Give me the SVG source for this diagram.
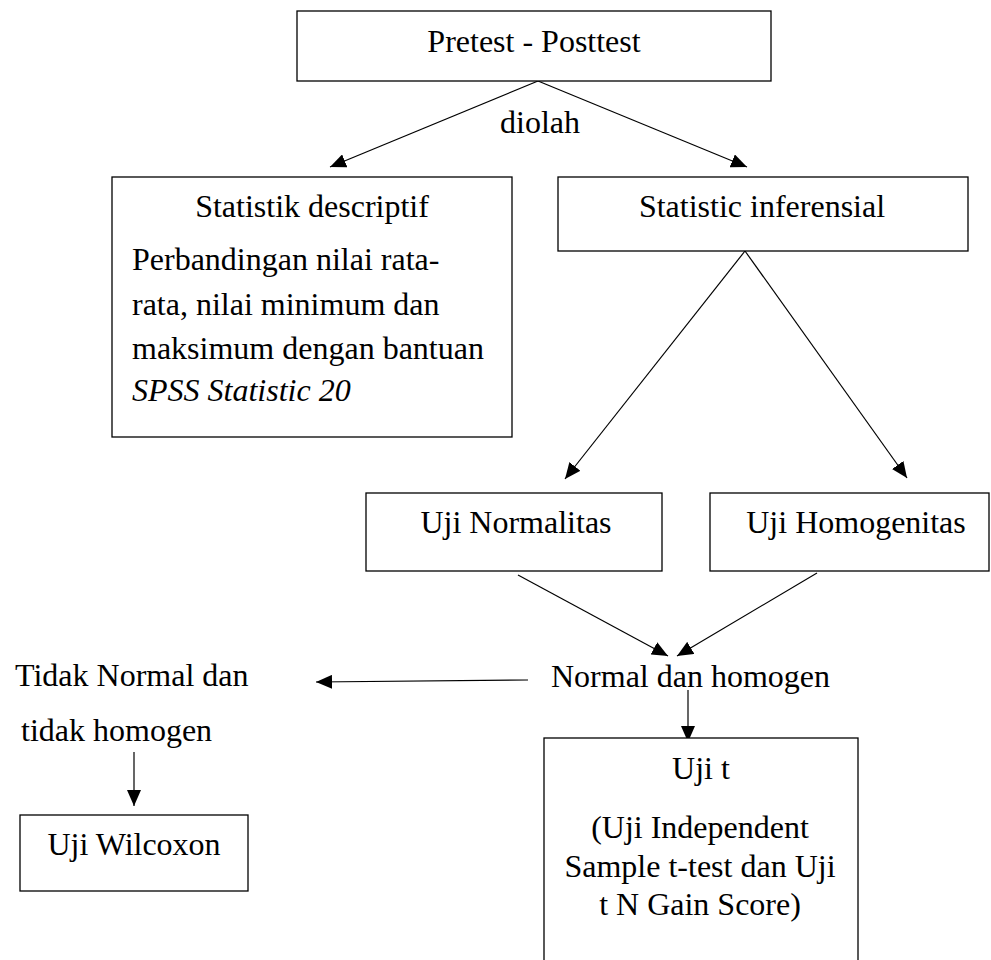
<svg xmlns="http://www.w3.org/2000/svg" width="991" height="960" viewBox="0 0 991 960">
<style>
.box{fill:#fff;stroke:#000;stroke-width:1.3}
.t{font-family:"Liberation Serif","Times New Roman",serif;font-size:32px;fill:#000}
.c{text-anchor:middle}
.ln{stroke:#000;stroke-width:1.2;fill:none;marker-end:url(#ah)}
</style>
<defs>
<marker id="ah" viewBox="0 0 16 14" refX="16" refY="7" markerWidth="16" markerHeight="14" markerUnits="userSpaceOnUse" orient="auto">
<path d="M0,0 L16,7 L0,14 Z" fill="#000"/>
</marker>
</defs>
<rect width="991" height="960" fill="#fff"/>
<g id="connectors">
<line class="ln" x1="538" y1="81" x2="330" y2="167"/>
<line class="ln" x1="538" y1="81" x2="747" y2="167"/>
<line class="ln" x1="745" y1="251" x2="565" y2="479"/>
<line class="ln" x1="745" y1="251" x2="907" y2="478"/>
<line class="ln" x1="518" y1="575" x2="668" y2="656"/>
<line class="ln" x1="817" y1="573" x2="677" y2="656"/>
<line class="ln" x1="528" y1="680" x2="316" y2="682"/>
<line class="ln" x1="134" y1="752" x2="134" y2="806"/>
<line class="ln" x1="688" y1="690" x2="688" y2="742"/>
</g>
<g id="pretest">
<rect class="box" x="297" y="11" width="474" height="70"/>
<text class="t c" x="534" y="52">Pretest - Posttest</text>
</g>
<g id="diolah">
<text class="t" x="500" y="133">diolah</text>
</g>
<g id="deskriptif">
<rect class="box" x="112" y="177" width="400" height="260"/>
<text class="t c" x="312" y="217">Statistik descriptif</text>
<text class="t" x="132" y="270">Perbandingan nilai rata-</text>
<text class="t" x="132" y="315">rata, nilai minimum dan</text>
<text class="t" x="132" y="359">maksimum dengan bantuan</text>
<text class="t" x="132" y="401" font-style="italic">SPSS Statistic 20</text>
</g>
<g id="inferensial">
<rect class="box" x="558" y="177" width="410" height="74"/>
<text class="t c" x="762" y="217">Statistic inferensial</text>
</g>
<g id="normalitas">
<rect class="box" x="366" y="493" width="296" height="78"/>
<text class="t c" x="516" y="533">Uji Normalitas</text>
</g>
<g id="homogenitas">
<rect class="box" x="710" y="493" width="279" height="78"/>
<text class="t c" x="856" y="533">Uji Homogenitas</text>
</g>
<g id="normal-homogen">
<text class="t" x="551" y="687">Normal dan homogen</text>
</g>
<g id="tidak-normal">
<text class="t" x="15" y="686">Tidak Normal dan</text>
<text class="t" x="21" y="741">tidak homogen</text>
</g>
<g id="wilcoxon">
<rect class="box" x="20" y="815" width="228" height="76"/>
<text class="t c" x="134" y="855">Uji Wilcoxon</text>
</g>
<g id="uji-t">
<rect class="box" x="544" y="738" width="314" height="240"/>
<text class="t c" x="701" y="779">Uji t</text>
<text class="t c" x="700" y="838">(Uji Independent</text>
<text class="t c" x="700" y="877">Sample t-test dan Uji</text>
<text class="t c" x="700" y="915">t N Gain Score)</text>
</g>
</svg>
